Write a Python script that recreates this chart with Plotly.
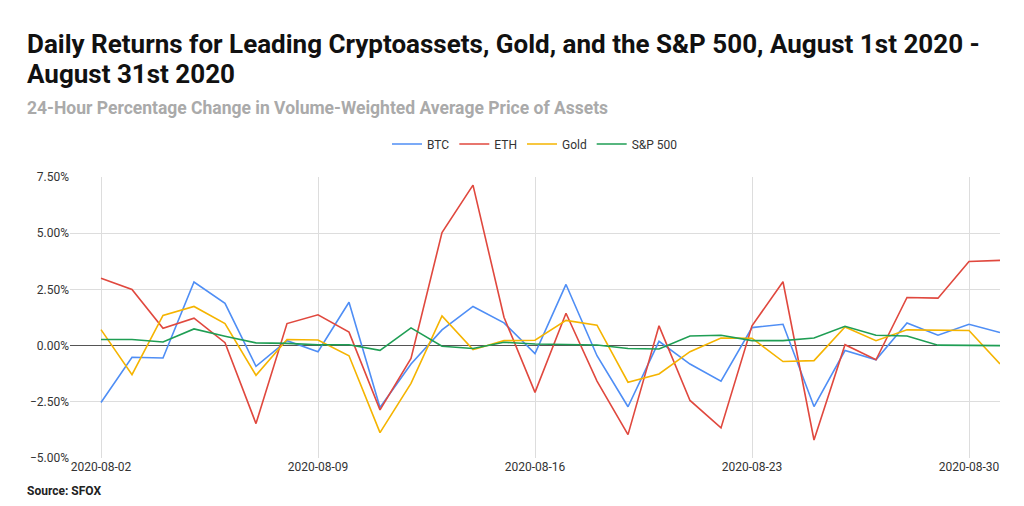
import plotly.graph_objects as go
import pandas as pd

dates = pd.date_range("2020-08-02", "2020-08-31").strftime("%Y-%m-%d").tolist()
btc = [-2.53,-0.52,-0.55,2.83,1.88,-0.92,0.22,-0.27,1.93,-2.75,-0.82,0.70,1.74,1.01,-0.36,
       2.72,-0.45,-2.72,0.19,-0.82,-1.58,0.80,0.95,-2.71,-0.22,-0.63,1.01,0.46,0.95,0.58]
eth = [3.0,2.5,0.77,1.22,0.13,-3.47,0.98,1.37,0.60,-2.86,-0.57,5.03,7.14,1.26,-2.08,
       1.44,-1.58,-3.96,0.88,-2.44,-3.66,0.88,2.84,-4.2,0.04,-0.63,2.14,2.11,3.74,3.79]
gold = [0.71,-1.29,1.34,1.74,0.98,-1.32,0.27,0.25,-0.45,-3.87,-1.68,1.32,-0.18,0.22,0.24,
        1.12,0.91,-1.63,-1.26,-0.27,0.34,0.33,-0.71,-0.67,0.83,0.22,0.70,0.67,0.67,-0.82]
sp500 = [0.27,0.27,0.16,0.74,0.42,0.12,0.10,0.04,0.04,-0.21,0.79,-0.03,-0.13,0.15,0.07,
         0.06,0.03,-0.13,-0.15,0.43,0.46,0.22,0.22,0.34,0.86,0.46,0.43,0.02,0.0,0.0]
tick_dates = ["2020-08-02","2020-08-09","2020-08-16","2020-08-23","2020-08-30"]

series = [("BTC", btc, "#4f8ef5"), ("ETH", eth, "#e0483e"),
          ("Gold", gold, "#f5b400"), ("S&P 500", sp500, "#1f9e54")]

fig = go.Figure()
for name, vals, col in series:
    fig.add_trace(go.Scatter(x=dates, y=[v/100 for v in vals], name=name, mode="lines",
                             line=dict(color=col, width=1.6)))

H = 281.0
def py(pix):
    return (458 - pix) / H

fig.update_layout(
    width=1008, height=490, plot_bgcolor="white", paper_bgcolor="white",
    font=dict(family="Roboto", color="#222"),
    margin=dict(l=62, r=16, t=169, b=40, autoexpand=False),
    legend=dict(orientation="h", x=0.5, xanchor="center", y=py(144), yanchor="middle",
                font=dict(size=12, color="#333")),
    annotations=[
        dict(text="<b>Daily Returns for Leading Cryptoassets, Gold, and the S&P 500, August 1st 2020 -</b>",
             xref="paper", yref="paper", x=-0.048, y=py(44), xanchor="left", yanchor="middle", align="left",
             showarrow=False, font=dict(size=26, color="#111")),
        dict(text="<b>August 31st 2020</b>",
             xref="paper", yref="paper", x=-0.048, y=py(74), xanchor="left", yanchor="middle", align="left",
             showarrow=False, font=dict(size=26, color="#111")),
        dict(text="<b>24-Hour Percentage Change in Volume-Weighted Average Price of Assets</b>",
             xref="paper", yref="paper", x=-0.048, y=py(108), xanchor="left", yanchor="middle",
             showarrow=False, font=dict(size=17.5, color="#aaaaaa")),
        dict(text="<b>Source: SFOX</b>", xref="paper", yref="paper", x=-0.048, y=py(491),
             xanchor="left", yanchor="middle", showarrow=False, font=dict(size=12, color="#222")),
    ],
)
fig.update_xaxes(range=["2020-08-01", "2020-08-31"], tickvals=tick_dates, ticktext=tick_dates,
                 automargin=False, showgrid=True, gridcolor="#dddddd",
                 tickfont=dict(size=12, color="#333"), showline=False)
fig.update_yaxes(range=[-0.05, 0.075], dtick=0.025, tickformat=".2%", showgrid=True, gridcolor="#dddddd",
                 automargin=False, zeroline=True, zerolinecolor="#555", zerolinewidth=1,
                 tickfont=dict(size=12, color="#333"))
fig.write_html("out.html")
